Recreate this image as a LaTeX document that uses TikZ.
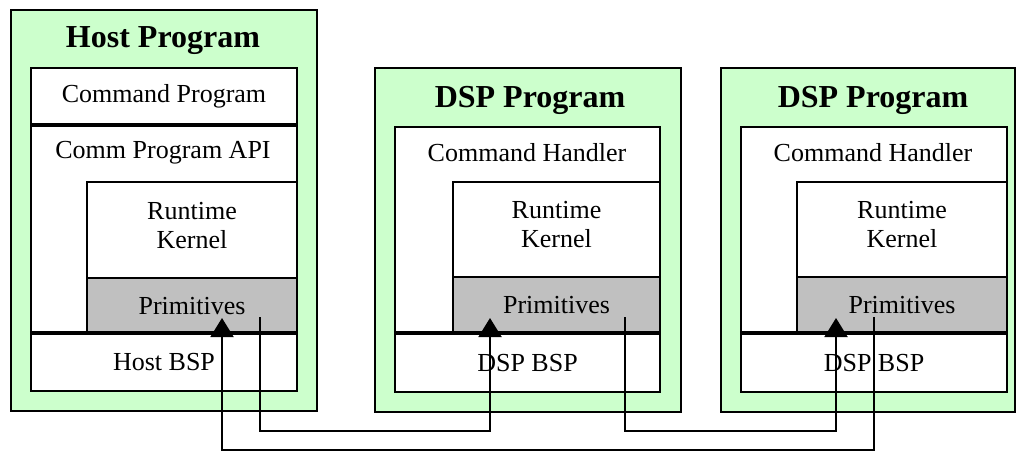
\documentclass[tikz,border=0pt]{standalone}
\usepackage{fontspec}
\setmainfont{Liberation Serif}
\usetikzlibrary{arrows.meta}
\definecolor{pgreen}{HTML}{CCFFCC}
\definecolor{pgray}{HTML}{C0C0C0}
\begin{document}
\begin{tikzpicture}[x=1pt,y=-1pt,
  prog/.style={draw, line width=2pt, fill=pgreen, anchor=north west, inner sep=0pt},
  layer/.style={draw, line width=2pt, fill=white, anchor=north west, inner sep=0pt, align=center, font=\fontsize{26}{29}\selectfont},
  kernel/.style={layer, text depth=10pt},
  prim/.style={layer, fill=pgray},
  title/.style={font=\fontsize{32}{36}\selectfont\bfseries},
  txt/.style={font=\fontsize{26}{29}\selectfont},
  sep/.style={line width=4pt},
  up/.style={line width=2pt, -{Triangle[width=23pt,length=19pt]}}]
\useasboundingbox (0,0) rectangle (1016,451);
\node[prog, minimum width=306pt, minimum height=401pt] (host) at (10,9) {};
\node[title] (hosttitle) at (163,41) {Host Program};
\node[layer, minimum width=266pt, minimum height=323pt] (hostbody) at (30,67) {};
\node[layer, minimum width=266pt, minimum height=56pt] (hostcmd) at (30,67) {Command Program};
\node[txt] (hostapi) at (163,153) {Comm Program API};
\node[kernel, minimum width=210pt, minimum height=96pt] (hostrk) at (86,181) {Runtime\\Kernel};
\node[prim, minimum width=210pt, minimum height=56pt] (hostprim) at (86,277) {Primitives};
\node[layer, minimum width=266pt, minimum height=57pt] (hostbsp) at (30,333) {Host BSP};
\draw[sep] (hostcmd.south west) -- (hostcmd.south east);
\draw[sep] (hostbsp.north west) -- (hostbsp.north east);
\node[prog, minimum width=306pt, minimum height=344pt] (dspa) at (374,67) {};
\node[title] (dspatitle) at (530,100) {DSP Program};
\node[layer, minimum width=265pt, minimum height=265pt] (dspabody) at (394,126) {};
\node[txt] (dspacmd) at (527,153) {Command Handler};
\node[kernel, minimum width=207pt, minimum height=95pt] (dspark) at (452,181) {Runtime\\Kernel};
\node[prim, minimum width=207pt, minimum height=57pt] (dspaprim) at (452,276) {Primitives};
\node[layer, minimum width=265pt, minimum height=58pt] (dspabsp) at (394,333) {DSP BSP};
\draw[sep] (dspabsp.north west) -- (dspabsp.north east);
\node[prog, minimum width=294pt, minimum height=344pt] (dspb) at (720,67) {};
\node[title] (dspbtitle) at (873,100) {DSP Program};
\node[layer, minimum width=266pt, minimum height=265pt] (dspbbody) at (740,126) {};
\node[txt] (dspbcmd) at (873,153) {Command Handler};
\node[kernel, minimum width=210pt, minimum height=95pt] (dspbrk) at (796,181) {Runtime\\Kernel};
\node[prim, minimum width=210pt, minimum height=57pt] (dspbprim) at (796,276) {Primitives};
\node[layer, minimum width=266pt, minimum height=58pt] (dspbbsp) at (740,333) {DSP BSP};
\draw[sep] (dspbbsp.north west) -- (dspbbsp.north east);
\coordinate (lowbus) at (0,431);
\coordinate (backbus) at (0,450);
\coordinate (hosttx) at (260,317);
\coordinate (hostrx) at (222,318);
\coordinate (dspatx) at (625,317);
\coordinate (dsparx) at (490,318);
\coordinate (dspbtx) at (874,317);
\coordinate (dspbrx) at (836,318);
\draw[up] (hosttx) -- (hosttx |- lowbus) -| (dsparx);
\draw[up] (dspatx) -- (dspatx |- lowbus) -| (dspbrx);
\draw[up] (dspbtx) -- (dspbtx |- backbus) -| (hostrx);
\end{tikzpicture}
\end{document}
